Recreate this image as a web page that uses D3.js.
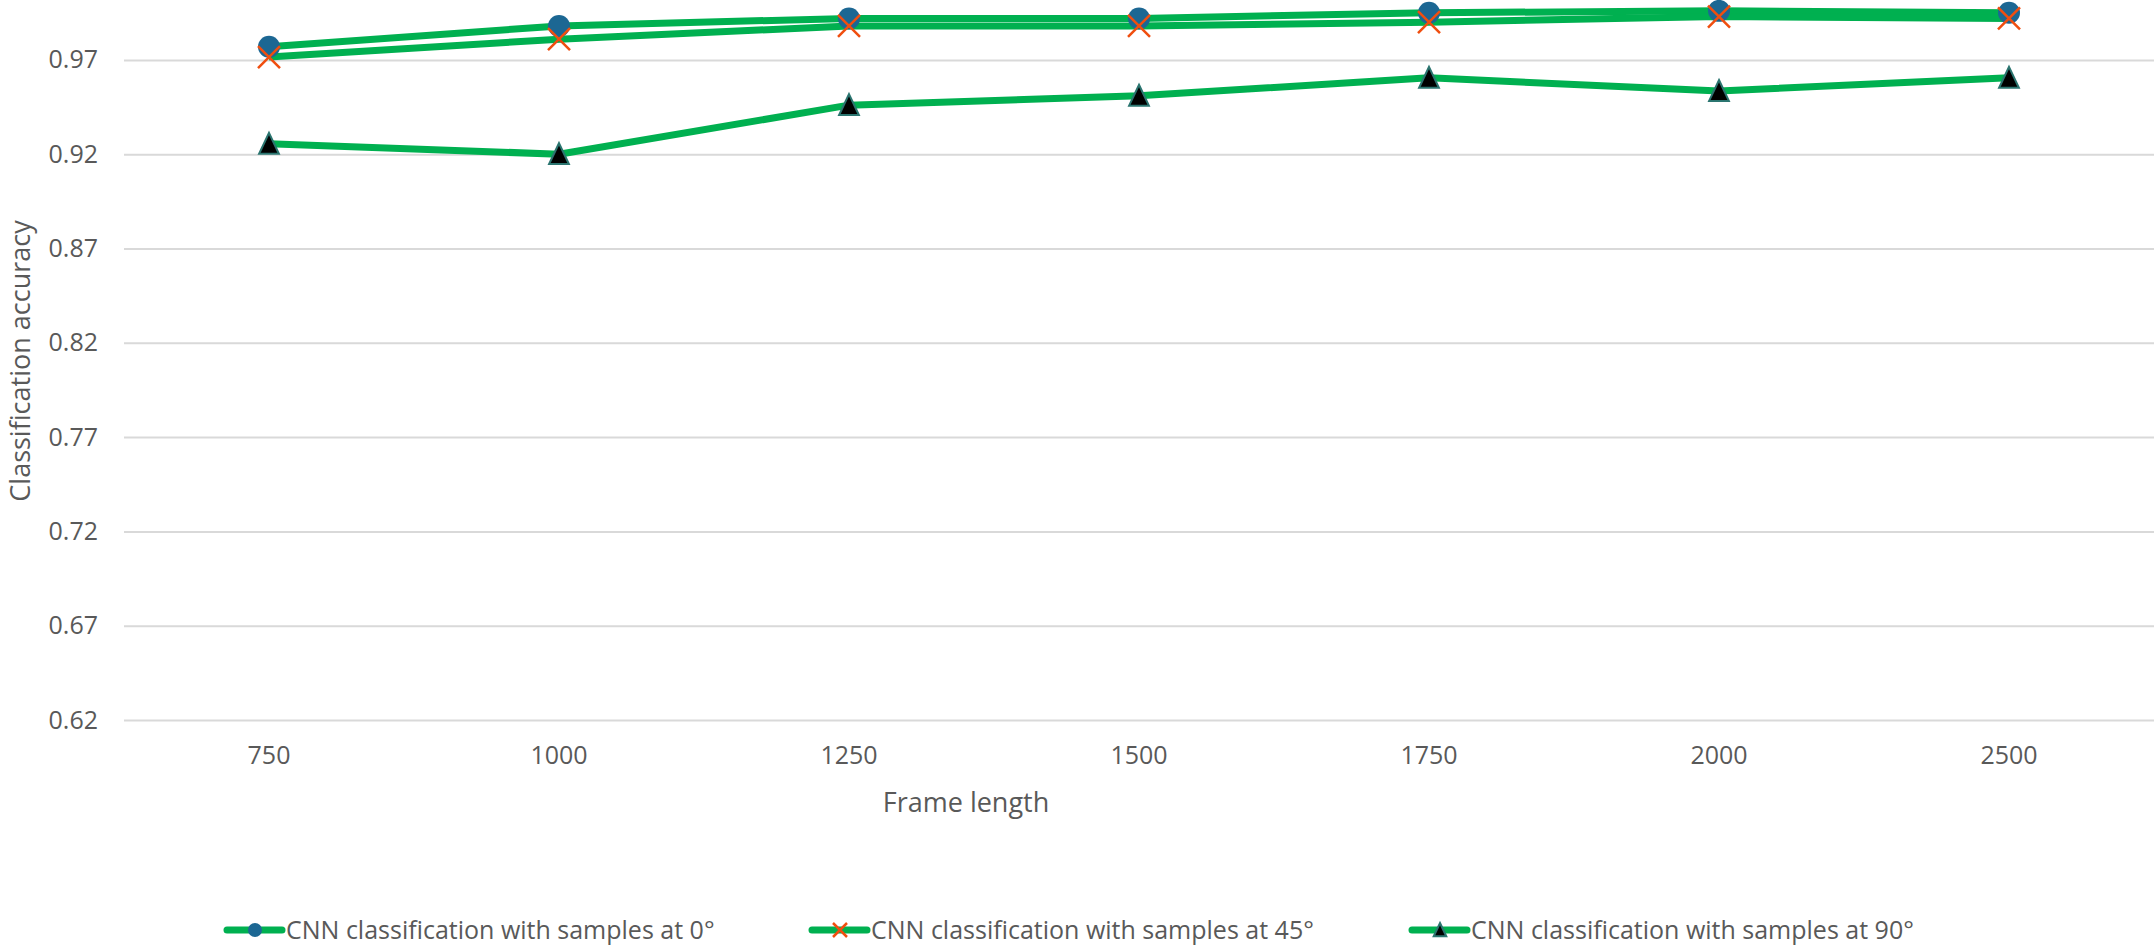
<!DOCTYPE html>
<html>
<head>
<meta charset="utf-8">
<style>
  body { margin: 0; background: #fff; }
  text { font-family: 'Open Sans', 'Noto Sans', sans-serif; fill: #595959; }
</style>
</head>
<body>
<svg width="2155" height="950"></svg>
<script src="https://cdn.jsdelivr.net/npm/d3@7/dist/d3.min.js"></script>
<script>
// Data
const frameLengths = ['750', '1000', '1250', '1500', '1750', '2000', '2500'];
const acc0 = [0.977, 0.988, 0.992, 0.992, 0.995, 0.996, 0.995];
const acc45 = [0.9715, 0.981, 0.988, 0.988, 0.990, 0.993, 0.992];
const acc90 = [0.9255, 0.920, 0.946, 0.951, 0.9605, 0.9535, 0.9605];
const yTicks = [0.62, 0.67, 0.72, 0.77, 0.82, 0.87, 0.92, 0.97];
const seriesNames = [
  'CNN classification with samples at 0°',
  'CNN classification with samples at 45°',
  'CNN classification with samples at 90°'
];

const series = [
  {name: seriesNames[0], values: acc0, marker: 'circle'},
  {name: seriesNames[1], values: acc45, marker: 'cross'},
  {name: seriesNames[2], values: acc90, marker: 'triangle'}
];

const lineColor = '#00b050';
const svg = d3.select('svg');

// scales
const x = d3.scaleBand().domain(frameLengths).range([124, 2154]);
const y = d3.scaleLinear().domain([0.62, 1.02]).range([720, 720 - 8 * 94.3]);
const cx = d => x(d) + x.bandwidth() / 2;

// gridlines + y labels
const yAxis = d3.axisLeft(y).tickValues(yTicks).tickSize(-(2154 - 124)).tickPadding(26)
  .tickFormat(d3.format('.2f'));
const gy = svg.append('g').attr('transform', 'translate(124,0)').call(yAxis);
gy.select('.domain').remove();
gy.selectAll('.tick line').attr('stroke', '#d9d9d9').attr('stroke-width', 2);
gy.selectAll('.tick text').attr('font-size', 25).attr('fill', '#595959')
  .style('font-family', "'Open Sans', sans-serif");

// x labels
const xAxis = d3.axisBottom(x).tickSize(0).tickPadding(26);
const gx = svg.append('g').attr('transform', 'translate(0,720)').call(xAxis);
gx.select('.domain').remove();
gx.selectAll('.tick text').attr('font-size', 25).attr('fill', '#595959')
  .style('font-family', "'Open Sans', sans-serif");

// axis titles
svg.append('text').text('Frame length')
  .attr('x', 966).attr('y', 812).attr('text-anchor', 'middle').attr('font-size', 27);
svg.append('text').text('Classification accuracy')
  .attr('transform', 'translate(30,361) rotate(-90)')
  .attr('text-anchor', 'middle').attr('font-size', 27);

// marker drawer
function drawMarker(g, type, size) {
  const h = size / 2;
  if (type === 'circle') {
    g.append('circle').attr('r', h).attr('fill', '#1c6793');
  } else if (type === 'cross') {
    g.append('path').attr('d', `M${-h},${-h}L${h},${h}M${-h},${h}L${h},${-h}`)
      .attr('stroke', '#f04e0f').attr('stroke-width', 2.5).attr('fill', 'none');
  } else {
    g.append('path').attr('d', `M0,${-h}L${h * 0.9},${h * 0.9}L${-h * 0.9},${h * 0.9}Z`)
      .attr('fill', '#000').attr('stroke', '#2b7570').attr('stroke-width', 2);
  }
}

// lines
const line = d3.line().x((d, i) => cx(frameLengths[i])).y(d => y(d));
svg.selectAll('.series-line').data(series).enter().append('path')
  .attr('class', 'series-line')
  .attr('fill', 'none').attr('stroke', lineColor).attr('stroke-width', 7)
  .attr('stroke-linejoin', 'round')
  .attr('d', d => line(d.values));

// markers
series.forEach(s => {
  s.values.forEach((v, i) => {
    const g = svg.append('g').attr('transform', `translate(${cx(frameLengths[i])},${y(v)})`);
    drawMarker(g, s.marker, 22);
  });
});

// legend
const legendX = [227, 812, 1412];
const legendY = 930;
series.forEach((s, i) => {
  const g = svg.append('g').attr('transform', `translate(${legendX[i]},${legendY})`);
  g.append('line').attr('x1', 0).attr('x2', 55).attr('y1', 0).attr('y2', 0)
    .attr('stroke', lineColor).attr('stroke-width', 7).attr('stroke-linecap', 'round');
  const m = g.append('g').attr('transform', 'translate(28,0)');
  drawMarker(m, s.marker, 14);
  g.append('text').text(s.name).attr('x', 59).attr('y', 9)
    .attr('font-size', 25);
});
</script>
</body>
</html>
